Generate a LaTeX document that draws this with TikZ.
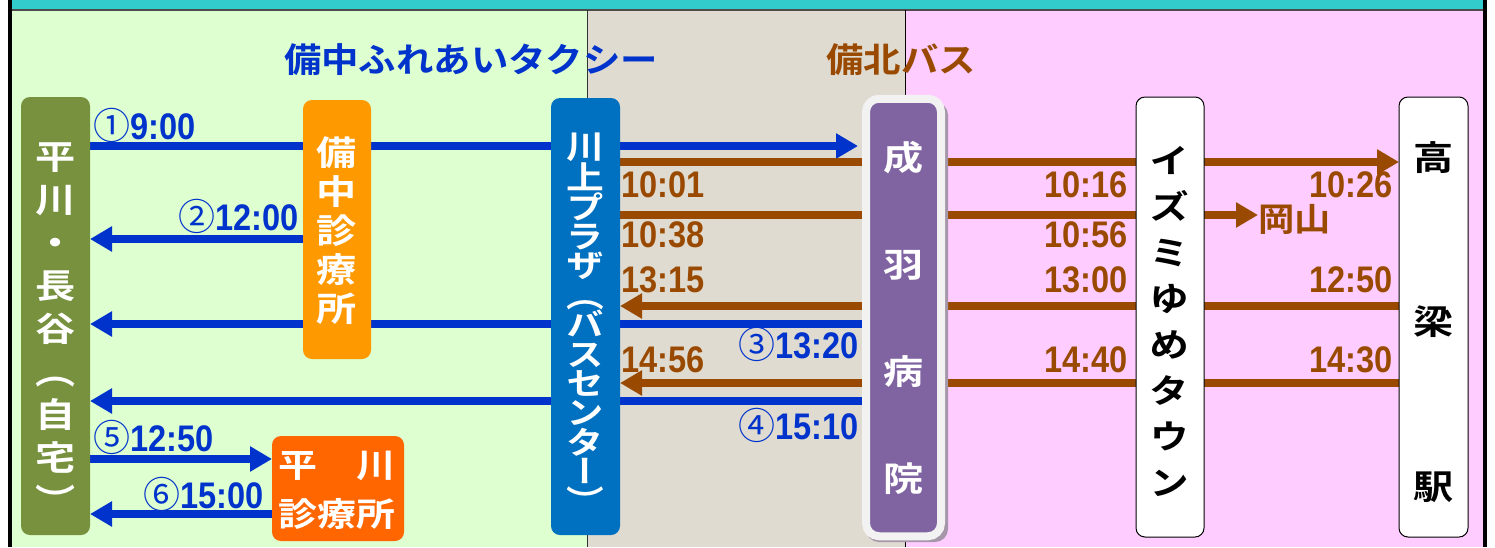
\documentclass[tikz,border=0pt]{standalone}
\usepackage{fontspec}
\usetikzlibrary{arrows.meta}
\newfontfamily\jpt{Noto Sans CJK JP Bold}[FakeStretch=1.1]
\newfontfamily\jpv{Noto Sans CJK JP Bold}[FakeStretch=1.18,RawFeature=+vert]
\newfontfamily\numf{Liberation Sans Bold}[FakeStretch=0.88]
\newfontfamily\circf{Noto Sans CJK JP}
\definecolor{bggreen}{RGB}{222,255,208}
\definecolor{bggray}{RGB}{223,219,208}
\definecolor{bgpink}{RGB}{255,204,255}
\definecolor{topcyan}{RGB}{51,204,204}
\definecolor{lineblue}{RGB}{0,51,204}
\definecolor{linebrown}{RGB}{153,74,0}
\definecolor{homegreen}{RGB}{119,145,62}
\definecolor{clinicorange}{RGB}{255,153,0}
\definecolor{plazablue}{RGB}{0,112,192}
\definecolor{nariwapurple}{RGB}{128,100,162}
\definecolor{nariwaedge}{RGB}{242,242,242}
\definecolor{shadowc}{RGB}{165,150,170}
\definecolor{hirared}{RGB}{255,102,0}
\pgfdeclarelayer{back}
\pgfdeclarelayer{lines}
\pgfsetlayers{back,lines,main}
\tikzset{
  box/.style={rounded corners=9pt, inner sep=0pt, outer sep=0pt},
  vtext/.style={inner sep=0pt, align=center},
  bline/.style={draw=lineblue, line width=8pt},
  brline/.style={draw=linebrown, line width=8pt},
  tip/.style={-{Triangle[length=22pt,width=24pt]}},
  blab/.style={text=lineblue, inner sep=0pt, font=\numf\fontsize{37}{37}\selectfont},
  brlab/.style={text=linebrown, inner sep=0pt, font=\numf\fontsize{37}{37}\selectfont},
  title/.style={inner sep=0pt, font=\jpt\fontsize{34}{34}\selectfont},
}
\begin{document}
\begin{tikzpicture}[x=1pt,y=-1pt]
\useasboundingbox (0,0) rectangle (1495,547);
% backgrounds
\begin{pgfonlayer}{back}
  \fill[white] (0,0) rectangle (1495,547);
  \fill[topcyan] (11,0) rectangle (1483,10);
  \fill[bggreen] (11,10) rectangle (587,547);
  \fill[bggray] (587,10) rectangle (905,547);
  \fill[bgpink] (905,10) rectangle (1483,547);
  \draw[line width=2pt, black!70] (11,10) -- (1483,10);
  \draw[line width=0.8pt, black!80] (587,10) -- (587,547);
  \draw[line width=0.8pt, black] (905,10) -- (905,547);
  \draw[line width=3.5pt, black] (10,0) -- (10,547);
  \draw[line width=3.5pt, black] (1485,0) -- (1485,547);
\end{pgfonlayer}
% titles
\node[title, text=lineblue] (t1) at (471,60) {備中ふれあいタクシー};
\node[title, text=linebrown] (t2) at (901,60) {備北バス};
% boxes
\node[box, fill=homegreen, minimum width=69pt, minimum height=438pt] (home) at (55.5,316) {};
\node[vtext, text=white, font=\jpv\fontsize{34}{43}\selectfont] (hometext) at (56,328) {平\\川\\・\\長\\谷\\（\\自\\宅\\）};
\node[box, fill=clinicorange, minimum width=68pt, minimum height=259pt] (bichu) at (337,229.5) {};
\node[vtext, text=white, font=\jpv\fontsize{34}{39}\selectfont] (bichutext) at (337,230.5) {備\\中\\診\\療\\所};
\node[box, fill=plazablue, minimum width=69pt, minimum height=437pt] (plaza) at (585.5,316.5) {};
\node[vtext, text=white, font=\jpv\fontsize{32}{29.4}\selectfont] (plazatext) at (585.5,323) {川\\上\\プ\\ラ\\ザ\\（\\バ\\ス\\セ\\ン\\タ\\ー\\）};
\fill[shadowc, rounded corners=13pt] (866,102) rectangle (948,542);
\node[box, rounded corners=13pt, fill=nariwapurple, draw=nariwaedge, line width=8pt, minimum width=75pt, minimum height=437.5pt] (nariwa) at (903.5,317.5) {};
\node[vtext, text=white, font=\jpv\fontsize{34}{107}\selectfont] (nariwatext) at (903.5,318) {成\\羽\\病\\院};
\node[box, fill=white, draw=black, line width=1pt, minimum width=68pt, minimum height=440pt] (izumi) at (1170,317) {};
\node[vtext, text=black, font=\jpv\fontsize{34}{46}\selectfont] (izumitext) at (1170,321) {イ\\ズ\\ミ\\ゆ\\め\\タ\\ウ\\ン};
\node[box, fill=white, draw=black, line width=1pt, minimum width=69pt, minimum height=440pt] (taka) at (1433.5,317) {};
\node[vtext, text=black, font=\jpv\fontsize{34}{164.5}\selectfont] (takatext) at (1433.5,322) {高\\梁\\駅};
\node[box, fill=hirared, minimum width=132pt, minimum height=105pt] (hira) at (338,488.5) {};
\node[vtext, text=white, font=\jpv\fontsize{33}{49}\selectfont] (hiratext) at (337,490.5) {平　川\\診療所};
\node[inner sep=0pt, anchor=west, text=linebrown, font=\jpt\fontsize{33}{33}\selectfont] (okayama) at (1258,219) {岡山};
% labels
\node[blab, anchor=west] (l1) at (93,125) {{\circf ①}9:00};
\node[blab, anchor=east] (l2) at (299,216) {{\circf ②}12:00};
\node[blab, anchor=east] (l3) at (859,344) {{\circf ③}13:20};
\node[blab, anchor=east] (l4) at (859,425) {{\circf ④}15:10};
\node[blab, anchor=west] (l5) at (93,437) {{\circf ⑤}12:50};
\node[blab, anchor=east] (l6) at (264,494) {{\circf ⑥}15:00};
\node[brlab, anchor=west] (b1) at (621,185) {10:01};
\node[brlab, anchor=west] (b2) at (621,235) {10:38};
\node[brlab, anchor=west] (b3) at (621,280) {13:15};
\node[brlab, anchor=west] (b4) at (621,360) {14:56};
\node[brlab, anchor=east] (c1) at (1128,185) {10:16};
\node[brlab, anchor=east] (c2) at (1128,235) {10:56};
\node[brlab, anchor=east] (c3) at (1128,280) {13:00};
\node[brlab, anchor=east] (c4) at (1128,360) {14:40};
\node[brlab, anchor=east] (d1) at (1393,185) {10:26};
\node[brlab, anchor=east] (d3) at (1393,280) {12:50};
\node[brlab, anchor=east] (d4) at (1393,360) {14:30};
% connector levels
\coordinate (ya) at (0,146);
\coordinate (yb) at (0,239);
\coordinate (yc) at (0,324);
\coordinate (yd) at (0,401);
\coordinate (ye) at (0,459);
\coordinate (yf) at (0,514);
\coordinate (y1) at (0,162);
\coordinate (y2) at (0,215);
\coordinate (y3) at (0,306);
\coordinate (y4) at (0,383);
\begin{pgfonlayer}{lines}
  \draw[bline,tip,shorten >=8pt] (home.east |- ya) -- (nariwa.west |- ya);
  \draw[bline,tip] (bichu.west |- yb) -- (home.east |- yb);
  \draw[bline,tip] (nariwa.west |- yc) -- (home.east |- yc);
  \draw[bline,tip] (nariwa.west |- yd) -- (home.east |- yd);
  \draw[bline,tip] (home.east |- ye) -- (hira.west |- ye);
  \draw[bline,tip] (hira.west |- yf) -- (home.east |- yf);
  \draw[brline,tip] (plaza.east |- y1) -- (taka.west |- y1);
  \draw[brline,tip] (plaza.east |- y2) -- (okayama.west |- y2);
  \draw[brline,tip] (taka.west |- y3) -- (plaza.east |- y3);
  \draw[brline,tip] (taka.west |- y4) -- (plaza.east |- y4);
\end{pgfonlayer}
\end{tikzpicture}
\end{document}
